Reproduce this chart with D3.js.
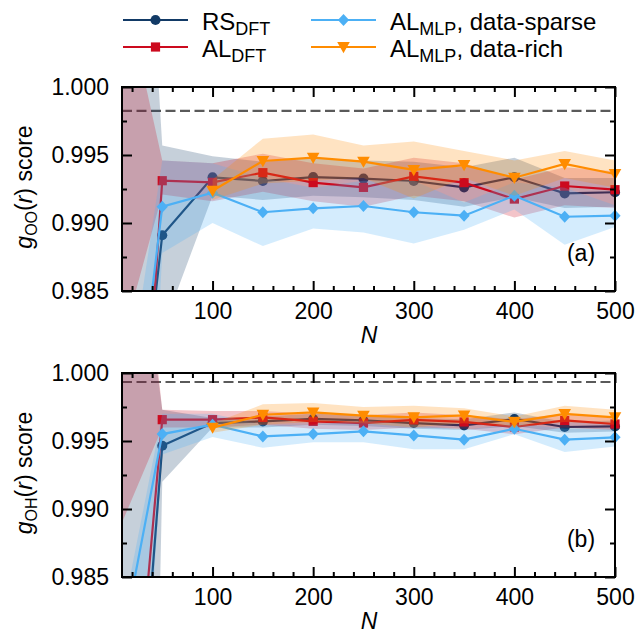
<!DOCTYPE html>
<html>
<head>
<meta charset="utf-8">
<script src="https://cdn.jsdelivr.net/npm/d3@7"></script>
<style>
  body { margin: 0; background: #fff; }
  svg { display: block; }
  text { font-family: "Liberation Sans", Arial, Helvetica, sans-serif; fill: #000; }
</style>
</head>
<body>
<svg id="chart" width="641" height="633"></svg>
<script>
// Training-set sizes
const N = [10, 50, 100, 150, 200, 250, 300, 350, 400, 450, 500];

// ---- g_OO(r) scores (panel a) ----
const ooRsDft     = [0.9630, 0.9891, 0.99336, 0.99309, 0.99338, 0.99326, 0.99309, 0.99262, 0.99336, 0.99218, 0.99226];
const ooRsDftLo   = [0.9300, 0.9821, 0.9920, 0.9917, 0.9920, 0.9919, 0.9917, 0.9912, 0.9919, 0.9911, 0.9912];
const ooRsDftHi   = [1.0450, 0.9957, 0.9949, 0.9945, 0.9948, 0.9946, 0.9945, 0.9941, 0.9948, 0.9933, 0.9933];

const ooAlDft     = [0.9496, 0.99311, 0.99299, 0.99370, 0.99297, 0.99262, 0.99343, 0.99297, 0.99176, 0.99272, 0.99245];
const ooAlDftLo   = [0.9813, 0.9921, 0.9916, 0.9923, 0.9916, 0.9912, 0.9920, 0.9916, 0.9904, 0.9913, 0.9911];
const ooAlDftHi   = [1.0080, 0.9946, 0.9944, 0.9951, 0.9944, 0.9940, 0.9948, 0.9944, 0.9932, 0.9941, 0.9938];

const ooMlpSparse   = [0.9666, 0.99120, 0.99223, 0.99079, 0.99108, 0.99125, 0.99079, 0.99054, 0.99201, 0.99046, 0.99054];
const ooMlpSparseLo = [0.9300, 0.9878, 0.9900, 0.9883, 0.9896, 0.9893, 0.9885, 0.9895, 0.9910, 0.9884, 0.9897];
const ooMlpSparseHi = [0.9750, 0.9946, 0.9944, 0.9933, 0.9926, 0.9931, 0.9931, 0.9915, 0.9930, 0.9926, 0.9913];

const ooMlpRich   = [null, null, 0.99237, 0.99456, 0.99480, 0.99451, 0.99390, 0.99426, 0.99333, 0.99434, 0.99360];
const ooMlpRichLo = [null, null, 0.9917, 0.9929, 0.9931, 0.9933, 0.9918, 0.9933, 0.9920, 0.9933, 0.9926];
const ooMlpRichHi = [null, null, 0.9932, 0.9962, 0.9965, 0.9957, 0.9960, 0.9953, 0.9946, 0.9953, 0.9946];

// ---- g_OH(r) scores (panel b) ----
const ohRsDft     = [0.9563, 0.99465, 0.99632, 0.99644, 0.99662, 0.99651, 0.99632, 0.99615, 0.99662, 0.99603, 0.99607];
const ohRsDftLo   = [0.8500, 0.9920, 0.9960, 0.9960, 0.9962, 0.9961, 0.9959, 0.9958, 0.9961, 0.9956, 0.9957];
const ohRsDftHi   = [1.0200, 0.9973, 0.9967, 0.9968, 0.9970, 0.9969, 0.9967, 0.9966, 0.9971, 0.9964, 0.9965];

const ohAlDft     = [0.9631, 0.99657, 0.99657, 0.99673, 0.99644, 0.99632, 0.99655, 0.99640, 0.99603, 0.99651, 0.99625];
const ohAlDftLo   = [0.9890, 0.9960, 0.9960, 0.9962, 0.9959, 0.9958, 0.9960, 0.9959, 0.9955, 0.9960, 0.9958];
const ohAlDftHi   = [1.0250, 0.9973, 0.9972, 0.9972, 0.9970, 0.9969, 0.9971, 0.9969, 0.9966, 0.9970, 0.9967];

const ohMlpSparse   = [0.98005, 0.99551, 0.99620, 0.99534, 0.99551, 0.99571, 0.99541, 0.99510, 0.99590, 0.99510, 0.99527];
const ohMlpSparseLo = [0.9500, 0.9940, 0.9953, 0.9945, 0.9949, 0.9949, 0.9944, 0.9944, 0.9955, 0.9942, 0.9946];
const ohMlpSparseHi = [0.9820, 0.9970, 0.9970, 0.9962, 0.9962, 0.9965, 0.9962, 0.9958, 0.9963, 0.9959, 0.9959];

const ohMlpRich   = [null, null, 0.99598, 0.99693, 0.99710, 0.99686, 0.99674, 0.99688, 0.99640, 0.99699, 0.99674];
const ohMlpRichLo = [null, null, 0.9956, 0.9962, 0.9964, 0.9963, 0.9960, 0.9963, 0.9960, 0.9964, 0.9962];
const ohMlpRichHi = [null, null, 0.9963, 0.9977, 0.9978, 0.9975, 0.9976, 0.9974, 0.9968, 0.9976, 0.9973];

// Reference (converged) scores, dashed lines
const ooReference = 0.99824;
const ohReference = 0.99934;

// Axis ticks
const xMajorTicks = [100, 200, 300, 400, 500];
const xMinorTicks = [20, 40, 60, 80, 120, 140, 160, 180, 220, 240, 260, 280, 320, 340, 360, 380, 420, 440, 460, 480];
const yMajorTicks = [0.985, 0.990, 0.995, 1.000];
const yMinorTicks = [0.9875, 0.9925, 0.9975];

// Series appearance
const seriesStyle = [
  { key: "rs",     color: "#123a66", marker: "circle"   },
  { key: "al",     color: "#cc0a1e", marker: "square"   },
  { key: "sparse", color: "#4cb0f5", marker: "diamond"  },
  { key: "rich",   color: "#ff8c00", marker: "triangle" }
];

const panels = [
  {
    top: 87, bottom: 291, tag: "(a)", sub: "OO", ref: ooReference,
    series: {
      rs:     { m: ooRsDft,     lo: ooRsDftLo,     hi: ooRsDftHi },
      al:     { m: ooAlDft,     lo: ooAlDftLo,     hi: ooAlDftHi },
      sparse: { m: ooMlpSparse, lo: ooMlpSparseLo, hi: ooMlpSparseHi },
      rich:   { m: ooMlpRich,   lo: ooMlpRichLo,   hi: ooMlpRichHi }
    }
  },
  {
    top: 373, bottom: 577, tag: "(b)", sub: "OH", ref: ohReference,
    series: {
      rs:     { m: ohRsDft,     lo: ohRsDftLo,     hi: ohRsDftHi },
      al:     { m: ohAlDft,     lo: ohAlDftLo,     hi: ohAlDftHi },
      sparse: { m: ohMlpSparse, lo: ohMlpSparseLo, hi: ohMlpSparseHi },
      rich:   { m: ohMlpRich,   lo: ohMlpRichLo,   hi: ohMlpRichHi }
    }
  }
];

const svg = d3.select("#chart");
const x = d3.scaleLinear().domain([10, 500]).range([122, 615]);
const FS = 23;

function markerPath(kind) {
  switch (kind) {
    case "circle":   return d3.symbol(d3.symbolCircle, 80)();
    case "square":   return "M-4.6,-4.6H4.6V4.6H-4.6Z";
    case "diamond":  return "M0,-6L5.6,0L0,6L-5.6,0Z";
    case "triangle": return "M-6.3,-5L6.3,-5L0,6.2Z";
  }
}

panels.forEach((p, pi) => {
  const y = d3.scaleLinear().domain([0.985, 1.0]).range([p.bottom, p.top]);
  const g = svg.append("g");
  const clipId = "clip" + pi;
  svg.append("defs").append("clipPath").attr("id", clipId)
    .append("rect").attr("x", x.range()[0]).attr("y", p.top)
    .attr("width", x.range()[1] - x.range()[0]).attr("height", p.bottom - p.top);

  // dashed reference line
  g.append("line")
    .attr("x1", x(10)).attr("x2", x(500))
    .attr("y1", y(p.ref)).attr("y2", y(p.ref))
    .attr("stroke", "#5a5a5a").attr("stroke-width", 2.2)
    .attr("stroke-dasharray", "10,4.5");

  // bands, lines and markers, series by series
  seriesStyle.forEach(s => {
    const d = p.series[s.key];
    const rows = N.map((n, i) => ({ n, m: d.m[i], lo: d.lo[i], hi: d.hi[i] }));
    const area = d3.area()
      .defined(r => r.m !== null)
      .x(r => x(r.n)).y0(r => y(r.lo)).y1(r => y(r.hi));
    const line = d3.line()
      .defined(r => r.m !== null)
      .x(r => x(r.n)).y(r => y(r.m));
    const sg = g.append("g");
    sg.append("path").datum(rows).attr("d", area)
      .attr("fill", s.color).attr("fill-opacity", 0.24)
      .attr("clip-path", `url(#${clipId})`);
    sg.append("path").datum(rows).attr("d", line)
      .attr("fill", "none").attr("stroke", s.color).attr("stroke-width", 2.2)
      .attr("clip-path", `url(#${clipId})`);
    sg.selectAll("path.mk")
      .data(rows.filter(r => r.m !== null && r.m >= 0.985 && r.m <= 1.0))
      .join("path").attr("class", "mk")
      .attr("d", markerPath(s.marker))
      .attr("transform", r => `translate(${x(r.n)},${y(r.m)})`)
      .attr("fill", s.color);
  });

  // axes with inward ticks
  const styleAxis = sel => {
    sel.select(".domain").remove();
    sel.selectAll(".tick line").attr("stroke", "#000").attr("stroke-width", 2);
    sel.selectAll(".tick text").attr("font-size", FS).attr("fill", "#000")
      .attr("font-family", '"Liberation Sans", Arial, sans-serif');
  };
  g.append("g").attr("transform", `translate(0,${p.bottom})`)
    .call(d3.axisBottom(x).tickValues(xMajorTicks).tickSize(-10).tickPadding(12).tickFormat(d3.format("d")))
    .call(styleAxis);
  g.append("g").attr("transform", `translate(0,${p.bottom})`)
    .call(d3.axisBottom(x).tickValues(xMinorTicks).tickSize(-5).tickFormat(""))
    .call(styleAxis);
  g.append("g").attr("transform", `translate(0,${p.top})`)
    .call(d3.axisTop(x).tickValues(xMajorTicks).tickSize(-10).tickFormat(""))
    .call(styleAxis);
  g.append("g").attr("transform", `translate(0,${p.top})`)
    .call(d3.axisTop(x).tickValues(xMinorTicks).tickSize(-5).tickFormat(""))
    .call(styleAxis);
  g.append("g").attr("transform", `translate(${x.range()[0]},0)`)
    .call(d3.axisLeft(y).tickValues(yMajorTicks).tickSize(-10).tickPadding(13).tickFormat(d3.format(".3f")))
    .call(styleAxis);
  g.append("g").attr("transform", `translate(${x.range()[0]},0)`)
    .call(d3.axisLeft(y).tickValues(yMinorTicks).tickSize(-5).tickFormat(""))
    .call(styleAxis);
  g.append("g").attr("transform", `translate(${x.range()[1]},0)`)
    .call(d3.axisRight(y).tickValues(yMajorTicks).tickSize(-10).tickFormat(""))
    .call(styleAxis);
  g.append("g").attr("transform", `translate(${x.range()[1]},0)`)
    .call(d3.axisRight(y).tickValues(yMinorTicks).tickSize(-5).tickFormat(""))
    .call(styleAxis);

  // frame
  g.append("rect")
    .attr("x", x.range()[0]).attr("y", p.top)
    .attr("width", x.range()[1] - x.range()[0]).attr("height", p.bottom - p.top)
    .attr("fill", "none").attr("stroke", "#000").attr("stroke-width", 2);

  // axis titles
  g.append("text").attr("x", 369).attr("y", p.bottom + 52)
    .attr("text-anchor", "middle").attr("font-size", FS).attr("font-style", "italic").text("N");

  const yt = g.append("text")
    .attr("transform", `translate(32,${(p.top + p.bottom) / 2 - 2}) rotate(-90)`)
    .attr("text-anchor", "middle").attr("font-size", FS);
  yt.append("tspan").attr("font-style", "italic").text("g");
  yt.append("tspan").attr("font-size", 16).attr("dy", 5).text(p.sub);
  yt.append("tspan").attr("dy", -5).text("(");
  yt.append("tspan").attr("font-style", "italic").text("r");
  yt.append("tspan").text(") score");

  // panel tag
  g.append("text").attr("x", 581).attr("y", p.bottom - 30)
    .attr("text-anchor", "middle").attr("font-size", FS).text(p.tag);
});

// legend
const legendItems = [
  { s: seriesStyle[0], x0: 123, yc: 20, main: "RS", sub: "DFT", rest: "" },
  { s: seriesStyle[1], x0: 123, yc: 47, main: "AL", sub: "DFT", rest: "" },
  { s: seriesStyle[2], x0: 311, yc: 20, main: "AL", sub: "MLP", rest: ", data-sparse" },
  { s: seriesStyle[3], x0: 311, yc: 47, main: "AL", sub: "MLP", rest: ", data-rich" }
];
const lg = svg.append("g");
legendItems.forEach(it => {
  lg.append("line").attr("x1", it.x0).attr("x2", it.x0 + 65)
    .attr("y1", it.yc).attr("y2", it.yc)
    .attr("stroke", it.s.color).attr("stroke-width", 2.2);
  lg.append("path").attr("d", markerPath(it.s.marker))
    .attr("transform", `translate(${it.x0 + 32.5},${it.yc})`).attr("fill", it.s.color);
  const t = lg.append("text").attr("x", it.x0 + 79).attr("y", it.yc + 10).attr("font-size", 24);
  t.append("tspan").text(it.main);
  t.append("tspan").attr("font-size", 18).attr("dy", 5).text(it.sub);
  if (it.rest) t.append("tspan").attr("dy", -5).text(it.rest);
});
</script>
</body>
</html>
